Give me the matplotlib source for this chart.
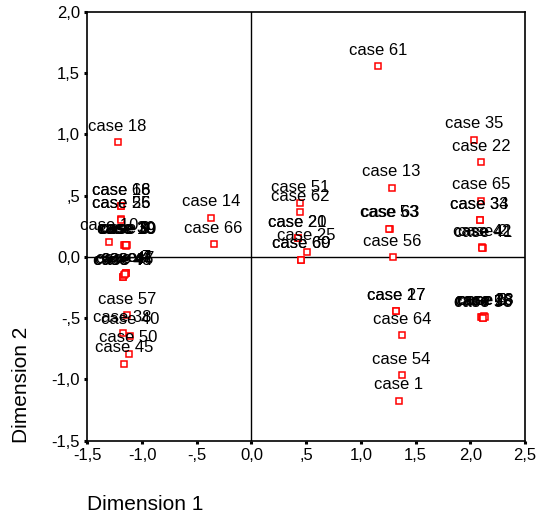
import matplotlib
matplotlib.use("Agg")
import matplotlib.pyplot as plt

plt.rcParams['font.family'] = ['Liberation Sans', 'DejaVu Sans']

# object points (case label, dimension 1, dimension 2)
cases = [
    "case 18", "case 14", "case 66", "case 68", "case 16", "case 26", "case 55", "case 10",
    "case 3", "case 8", "case 9", "case 19", "case 39", "case 30",
    "case 4", "case 7", "case 43", "case 44", "case 46", "case 47",
    "case 57", "case 38", "case 40", "case 50", "case 45",
    "case 51", "case 62", "case 20", "case 21", "case 25", "case 69", "case 60",
    "case 61", "case 13", "case 63", "case 53", "case 56",
    "case 35", "case 22", "case 65", "case 33", "case 34", "case 42", "case 41", "case 2",
    "case 27", "case 17", "case 64", "case 54", "case 1",
    "case 5", "case 6", "case 15", "case 28", "case 48", "case 58",
]
dim1 = [
    -1.224, -0.371, -0.347, -1.194, -1.190, -1.194, -1.190, -1.300,
    -1.168, -1.158, -1.151, -1.145, -1.138, -1.148,
    -1.151, -1.146, -1.178, -1.172, -1.162, -1.156,
    -1.139, -1.178, -1.111, -1.124, -1.166,
    0.445, 0.445, 0.421, 0.421, 0.503, 0.452, 0.452,
    1.156, 1.281, 1.265, 1.255, 1.290,
    2.034, 2.097, 2.097, 2.085, 2.085, 2.105, 2.115, 2.110,
    1.320, 1.320, 1.375, 1.372, 1.347,
    2.100, 2.110, 2.120, 2.125, 2.130, 2.120,
]
dim2 = [
    0.936, 0.321, 0.104, 0.416, 0.416, 0.307, 0.305, 0.125,
    0.098, 0.095, 0.098, 0.092, 0.095, 0.100,
    -0.133, -0.135, -0.163, -0.160, -0.150, -0.140,
    -0.476, -0.623, -0.645, -0.792, -0.873,
    0.438, 0.367, 0.153, 0.153, 0.043, -0.024, -0.024,
    1.559, 0.566, 0.229, 0.232, -0.003,
    0.955, 0.773, 0.457, 0.300, 0.300, 0.080, 0.070, 0.075,
    -0.443, -0.443, -0.639, -0.966, -1.173,
    -0.490, -0.490, -0.495, -0.485, -0.490, -0.500,
]

xticks = [-1.5, -1.0, -0.5, 0.0, 0.5, 1.0, 1.5, 2.0, 2.5]
xticklabels = ["-1,5", "-1,0", "-,5", "0,0", ",5", "1,0", "1,5", "2,0", "2,5"]
yticks = [-1.5, -1.0, -0.5, 0.0, 0.5, 1.0, 1.5, 2.0]
yticklabels = ["-1,5", "-1,0", "-,5", "0,0", ",5", "1,0", "1,5", "2,0"]

fig = plt.figure(figsize=(5.36, 5.15), dpi=100)
ax = fig.add_axes([0.163, 0.1443, 0.8165, 0.8324])

ax.axhline(0, color='black', lw=1.0, zorder=1)
ax.axvline(0, color='black', lw=1.0, zorder=1)

ax.plot(dim1, dim2, linestyle='none', marker='s', markersize=5,
        markerfacecolor='white', markeredgecolor='red', markeredgewidth=1.1, zorder=3)

for name, x, y in zip(cases, dim1, dim2):
    ax.annotate(name, (x, y), xytext=(0, 16), textcoords='offset pixels',
                ha='center', va='center', fontsize=12, color='black', zorder=4)

ax.set_xlim(-1.5, 2.5)
ax.set_ylim(-1.5, 2.0)
ax.set_xticks(xticks)
ax.set_xticklabels(xticklabels)
ax.set_yticks(yticks)
ax.set_yticklabels(yticklabels)
ax.tick_params(direction='out', length=2.2, width=2.2, labelsize=12, pad=3)
for s in ax.spines.values():
    s.set_linewidth(1.2)

fig.text(87 / 536, 1 - 505 / 515, "Dimension 1", ha='left', va='center', fontsize=15)
fig.text(21.7 / 536, 1 - 385 / 515, "Dimension 2", ha='center', va='center',
         rotation=90, fontsize=15)

fig.savefig("out.png", dpi=100)
